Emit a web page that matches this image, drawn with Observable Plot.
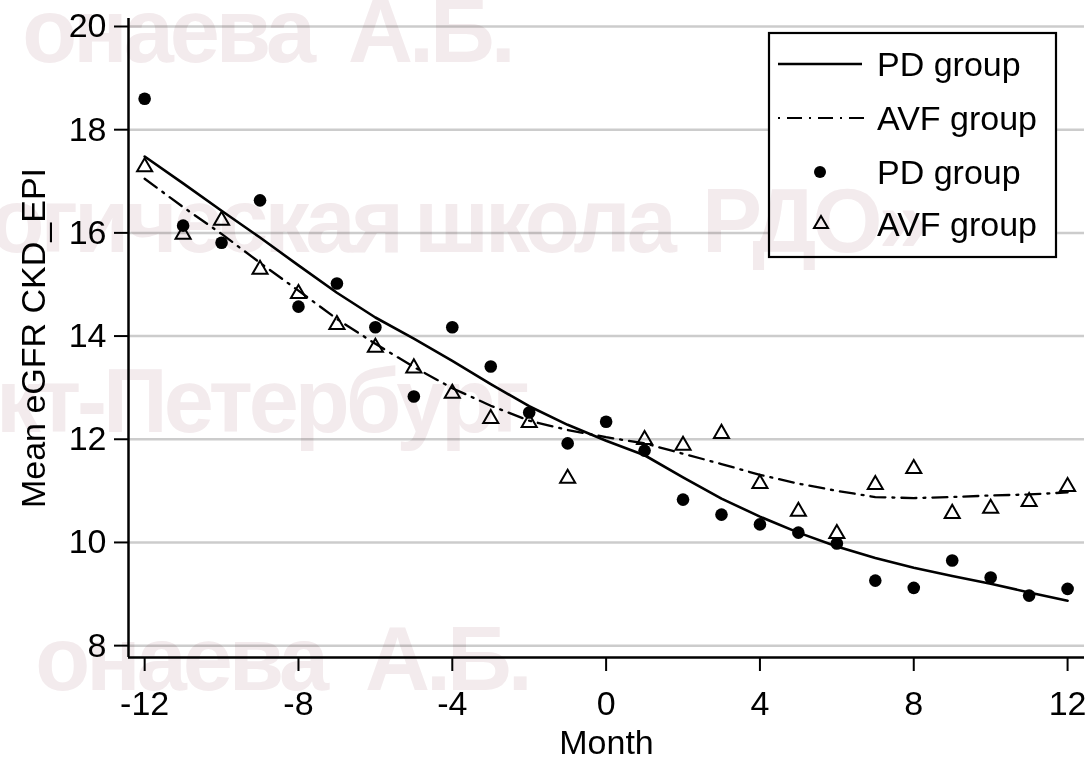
<!DOCTYPE html>
<html>
<head>
<meta charset="utf-8">
<script src="https://cdn.jsdelivr.net/npm/d3@7"></script>
<script src="https://cdn.jsdelivr.net/npm/@observablehq/plot@0.6"></script>
<style>
  html, body { margin: 0; padding: 0; background: #fff; }
  #wrap { position: relative; width: 1086px; height: 757px; overflow: hidden; background: #fff; }
  #wrap svg { position: absolute; left: 0; top: 0; }
  #wm { mix-blend-mode: multiply; pointer-events: none; }
</style>
</head>
<body>
<div id="wrap"></div>
<script>
// ---- data ----
const months   = [-12,-11,-10,-9,-8,-7,-6,-5,-4,-3,-2,-1,0,1,2,3,4,5,6,7,8,9,10,11,12];
const pdMean   = [18.60,16.14,15.81,16.63,14.57,15.02,14.17,12.83,14.17,13.41,12.52,11.92,12.34,11.78,10.83,10.54,10.35,10.19,9.98,9.26,9.12,9.65,9.32,8.97,9.10];
const avfMean  = [17.28,15.97,16.24,15.29,14.82,14.22,13.78,13.38,12.89,12.40,12.32,11.24,null,11.99,11.88,12.11,11.14,10.60,10.17,11.12,11.43,10.56,10.66,10.79,11.08];
const pdFit    = [17.48,16.96,16.43,15.91,15.37,14.84,14.36,13.95,13.52,13.07,12.64,12.28,11.97,11.69,11.26,10.85,10.50,10.19,9.92,9.70,9.51,9.35,9.20,9.03,8.87];
const avfFit   = [17.05,16.50,15.98,15.42,14.88,14.33,13.85,13.40,12.99,12.65,12.36,12.18,12.04,11.92,11.72,11.52,11.31,11.14,11.00,10.88,10.86,10.88,10.91,10.93,10.97];
const xTicks   = [-12,-8,-4,0,4,8,12];
const yTicks   = [8,10,12,14,16,18,20];
const xDomain  = [-12.42, 12.44];
const yDomain  = [7.77, 20.155];
const legendLabels = ["PD group","AVF group","PD group","AVF group"];
const watermark = [
  {text:"онаева", x:312, y:62, anchor:"end"},
  {text:"А.Б.", x:348, y:62, anchor:"start"},
  {text:"логическая", x:400, y:252, anchor:"end"},
  {text:"школа", x:414, y:252, anchor:"start"},
  {text:"РДО»", x:702, y:252, anchor:"start"},
  {text:"кт-Петербург", x:-4, y:432, anchor:"start"},
  {text:"онаева", x:325, y:690, anchor:"end"},
  {text:"А.Б.", x:365, y:690, anchor:"start"}
];

const rows = months.map((m,i) => ({month:m, pd:pdMean[i], avf:avfMean[i], pdFit:pdFit[i], avfFit:avfFit[i]}));
const FONT = "'Liberation Sans', Arial, Helvetica, sans-serif";
const DASHDOT = "15 7 2 7";
const fmt = d => String(d);

const chart = Plot.plot({
  width: 1086,
  height: 757,
  marginLeft: 128,
  marginRight: 2,
  marginTop: 18,
  marginBottom: 100,
  style: {fontFamily: FONT, fontSize: "34px", background: "transparent", color: "#000", overflow: "visible"},
  x: {domain: xDomain},
  y: {domain: yDomain},
  marks: [
    Plot.gridY(yTicks, {stroke: "#cccccc", strokeOpacity: 1, strokeWidth: 2.5}),
    Plot.axisY(yTicks, {tickSize: 14, tickPadding: 8, strokeWidth: 2, fontSize: 34, tickFormat: fmt,
      label: "Mean eGFR CKD_EPI", labelAnchor: "center", labelOffset: 108, labelArrow: "none"}),
    Plot.axisX(xTicks, {tickSize: 14, tickPadding: 19, strokeWidth: 2, fontSize: 34, tickFormat: fmt,
      label: "Month", labelAnchor: "center", labelOffset: 96, labelArrow: "none"}),
    Plot.ruleX([xDomain[0]], {stroke: "#000", strokeWidth: 2.5}),
    Plot.ruleY([yDomain[0]], {stroke: "#000", strokeWidth: 2.5}),
    Plot.line(rows, {x: "month", y: "pdFit", stroke: "#000", strokeWidth: 2.6}),
    Plot.line(rows, {x: "month", y: "avfFit", stroke: "#000", strokeWidth: 2.3, strokeDasharray: DASHDOT}),
    Plot.dot(rows, {x: "month", y: "pd", r: 6.3, fill: "#000", stroke: "none"}),
    Plot.dot(rows.filter(d => d.avf != null), {x: "month", y: "avf", r: 5.6, symbol: "triangle", fill: "none", stroke: "#000", strokeWidth: 2})
  ]
});

const wrap = document.getElementById("wrap");
wrap.appendChild(chart);

// ---- legend ----
const leg = d3.create("svg").attr("width", 1086).attr("height", 757).style("font-family", FONT);
leg.append("rect").attr("x", 769).attr("y", 33).attr("width", 287).attr("height", 224)
  .attr("fill", "#fff").attr("stroke", "#000").attr("stroke-width", 2.2);
const rowY = [64, 118, 172, 224];
leg.append("line").attr("x1", 778).attr("x2", 862).attr("y1", rowY[0]).attr("y2", rowY[0])
  .attr("stroke", "#000").attr("stroke-width", 2.5);
leg.append("line").attr("x1", 778).attr("x2", 864).attr("y1", rowY[1]).attr("y2", rowY[1])
  .attr("stroke", "#000").attr("stroke-width", 2.2).attr("stroke-dasharray", "2 7 15 7");
leg.append("circle").attr("cx", 820).attr("cy", rowY[2]).attr("r", 6).attr("fill", "#000");
leg.append("path").attr("transform", `translate(821,${rowY[3]})`)
  .attr("d", d3.symbol(d3.symbolTriangle, Math.PI * 5.2 * 5.2)())
  .attr("fill", "none").attr("stroke", "#000").attr("stroke-width", 2);
legendLabels.forEach((t, i) => {
  leg.append("text").attr("x", 877).attr("y", rowY[i] + 12).attr("font-size", 34)
    .attr("fill", "#000").text(t);
});
wrap.appendChild(leg.node());

// ---- watermark overlay ----
const wm = d3.create("svg").attr("id", "wm").attr("width", 1086).attr("height", 757)
  .style("font-family", FONT);
watermark.forEach(w => {
  wm.append("text").attr("x", w.x).attr("y", w.y).attr("text-anchor", w.anchor)
    .attr("font-size", 90).attr("font-weight", "bold").attr("letter-spacing", -4)
    .attr("fill", "#f3ebed").text(w.text);
});
wrap.appendChild(wm.node());
</script>
</body>
</html>
